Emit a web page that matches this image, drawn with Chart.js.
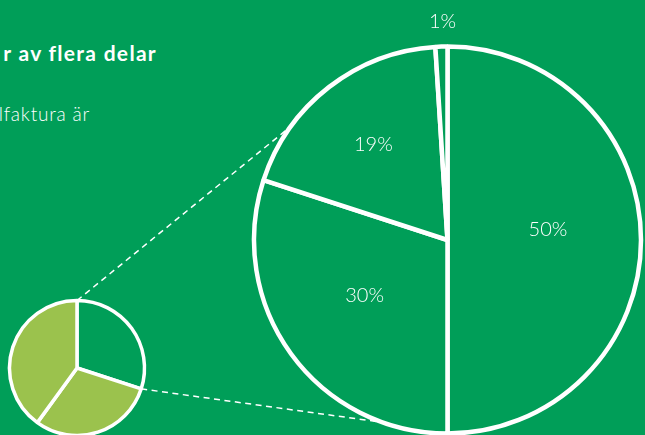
<!DOCTYPE html>
<html>
<head>
<meta charset="utf-8">
<script src="https://cdn.jsdelivr.net/npm/chart.js@4"></script>
<style>
  html, body { margin: 0; padding: 0; }
  body {
    width: 645px; height: 435px; overflow: hidden; position: relative;
    background: #009e58; font-family: Lato, 'Noto Sans', sans-serif; color: #fff;
  }
  canvas { position: absolute; left: 0; top: 0; }
  .rubrik { position: absolute; right: 488px; top: 40px; font-size: 21px; font-weight: 700; letter-spacing: 1.3px; white-space: nowrap; }
  .ingress { position: absolute; right: 555px; top: 102px; font-size: 19px; font-weight: 300; letter-spacing: 0.8px; white-space: nowrap; }
</style>
</head>
<body>
<div class="rubrik">r av flera delar</div>
<div class="ingress">lfaktura är</div>
<canvas id="stor" width="645" height="435"></canvas>
<canvas id="liten" width="645" height="435"></canvas>
<script>
// andelar i den stora cirkeln (procent)
const delar = [50, 30, 19, 1];
// den lilla cirkeln: första sektorn är den som förstoras
const helhet = [30, 30, 40];

const gron = '#009e58';
const ljusgron = '#9bc24d';

// placering av procenttexterna: avstånd från mitten (px) och vridning (grader)
const etikettRadie = [101, 100, 121, 219];
const etikettVrid = [-6, 2, 0, 0.5];
// var de streckade linjerna möter stora cirkeln (grader medurs från toppen)
const linjeVinklar = [306, 199.5];

Chart.defaults.animation = false;

const etiketter = {
  id: 'etiketter',
  afterDatasetsDraw(chart) {
    const ctx = chart.ctx;
    const arcs = chart.getDatasetMeta(0).data;
    ctx.save();
    ctx.fillStyle = '#fff';
    ctx.font = '300 20px Lato, "Noto Sans", sans-serif';
    ctx.textAlign = 'center';
    ctx.textBaseline = 'middle';
    arcs.forEach((arc, i) => {
      const mid = (arc.startAngle + arc.endAngle) / 2 + etikettVrid[i] * Math.PI / 180;
      const x = arc.x + Math.cos(mid) * etikettRadie[i];
      const y = arc.y + Math.sin(mid) * etikettRadie[i];
      ctx.fillText(delar[i] + '%', x, y);
    });
    ctx.restore();
  }
};

const stor = new Chart(document.getElementById('stor'), {
  type: 'pie',
  data: {
    labels: delar.map(v => v + '%'),
    datasets: [{
      data: delar,
      backgroundColor: gron,
      borderColor: '#fff',
      borderWidth: 4.5,
      radius: 193.5,
      clip: false
    }]
  },
  options: {
    responsive: false,
    layout: { padding: { left: 250, top: 45, right: 0, bottom: 0 } },
    events: [],
    plugins: { legend: { display: false }, tooltip: { enabled: false } }
  },
  plugins: [etiketter]
});

const linjer = {
  id: 'linjer',
  beforeDatasetsDraw(chart) {
    const ctx = chart.ctx;
    const liten = chart.getDatasetMeta(0).data[0];
    const storArc = stor.getDatasetMeta(0).data[0];
    const R = storArc.outerRadius;
    const r = liten.outerRadius;
    const fran = [liten.startAngle, liten.endAngle];
    ctx.save();
    ctx.strokeStyle = '#fff';
    ctx.lineWidth = 1.5;
    ctx.setLineDash([6, 4.5]);
    fran.forEach((a, i) => {
      const b = (linjeVinklar[i] - 90) * Math.PI / 180;
      ctx.beginPath();
      ctx.moveTo(liten.x + Math.cos(a) * r, liten.y + Math.sin(a) * r);
      ctx.lineTo(storArc.x + Math.cos(b) * R, storArc.y + Math.sin(b) * R);
      ctx.stroke();
    });
    ctx.restore();
  }
};

new Chart(document.getElementById('liten'), {
  type: 'pie',
  data: {
    labels: helhet.map(v => v + '%'),
    datasets: [{
      data: helhet,
      backgroundColor: [gron, ljusgron, ljusgron],
      borderColor: '#fff',
      borderWidth: 3.5,
      radius: 67.5,
      clip: false
    }]
  },
  options: {
    responsive: false,
    layout: { padding: { left: 0, top: 301, right: 491, bottom: 0 } },
    events: [],
    plugins: { legend: { display: false }, tooltip: { enabled: false } }
  },
  plugins: [linjer]
});
</script>
</body>
</html>
